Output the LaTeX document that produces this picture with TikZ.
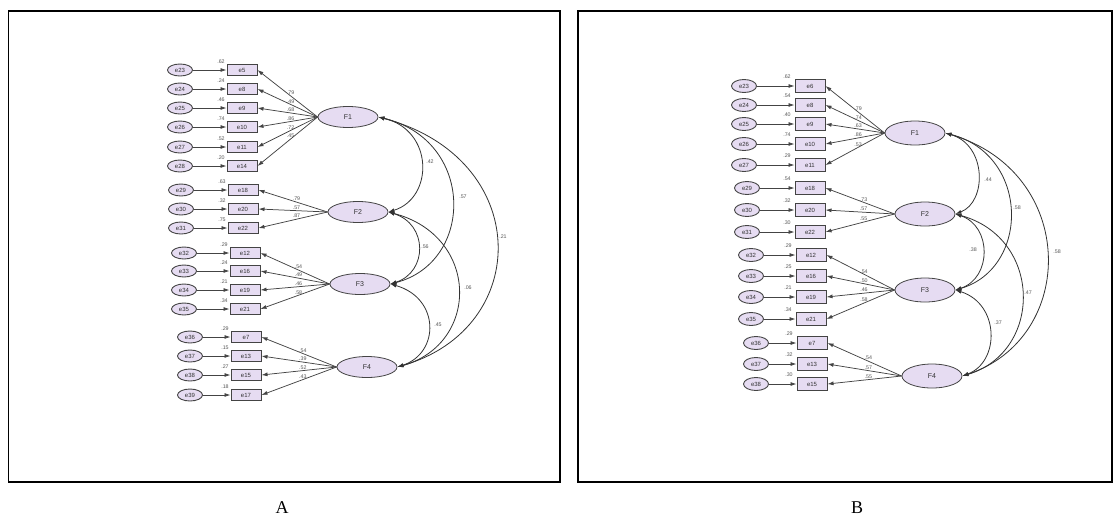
\documentclass[tikz,border=0pt]{standalone}
\usepackage{fontspec}
\setmainfont{Liberation Serif}
\newfontfamily\diagfont{Liberation Sans}
\usetikzlibrary{arrows.meta,shapes.geometric}
\definecolor{lav}{HTML}{E6DCF2}
\definecolor{edgegray}{HTML}{444444}
\definecolor{ink}{HTML}{333333}
\definecolor{numgray}{HTML}{555555}

\begin{document}
\begin{tikzpicture}[x=1pt,y=-1pt,
  frame/.style={draw=black,line width=1.6pt},
  errc/.style={ellipse,draw=edgegray,fill=lav,line width=0.9pt,minimum width=25pt,minimum height=12pt,inner sep=0pt,font=\diagfont\fontsize{6}{6}\selectfont,text=ink},
  obs/.style={rectangle,draw=edgegray,fill=lav,line width=1pt,minimum width=30pt,minimum height=11pt,inner sep=0pt,font=\diagfont\fontsize{6}{6}\selectfont,text=ink},
  obsb/.style={obs,minimum height=13pt},
  lat/.style={ellipse,draw=edgegray,fill=lav,line width=0.8pt,minimum width=60pt,minimum height=21pt,inner sep=0pt,font=\diagfont\fontsize{7}{7}\selectfont,text=ink},
  latb/.style={lat,minimum height=24pt},
  ind/.style={draw=edgegray,line width=0.75pt,-{Latex[length=6pt,width=4pt]}},
  cov/.style={draw=ink,line width=0.8pt,{Latex[length=6pt,width=4pt]}-{Latex[length=6pt,width=4pt]}},
  rsq/.style={inner sep=0pt,font=\diagfont\fontsize{5.3}{5.3}\selectfont,text=numgray},
  lbl/.style={inner sep=0.8pt,above,font=\diagfont\fontsize{5.3}{5.3}\selectfont,text=numgray},
  clbl/.style={inner sep=0pt,font=\diagfont\fontsize{5.3}{5.3}\selectfont,text=numgray},
  panel/.style={inner sep=0pt,font=\fontsize{18}{18}\selectfont}]

\useasboundingbox (0,0) rectangle (1115,517);

% frames and captions
\draw[frame] (8.5,11) rectangle (560,482);
\draw[frame] (578,11) rectangle (1112,482);
\node[panel] (capA) at (282,508) {A};
\node[panel] (capB) at (857,508) {B};

% ---------------- model A ----------------
\node[lat] (AF1) at (348,117) {F1};
\node[lat] (AF2) at (358,212) {F2};
\node[lat] (AF3) at (360,284) {F3};
\node[lat] (AF4) at (367,367) {F4};

\foreach \en/\bn/\y/\r/\l in {23/5/70/.62/.79,24/8/89/.24/.49,25/9/108/.46/.68,26/10/127/.74/.86,27/11/147/.52/.72,28/14/166/.20/.45}{
  \node[errc] (Ae\en) at (180,\y) {e\en};
  \node[obs] (Ab\bn) at (242,\y) {e\bn};
  \node[rsq] (Ar\bn) at (221,\y-8) {\r};
  \draw[ind] (Ae\en) -- (Ab\bn);
  \draw[ind] (AF1.west) -- (Ab\bn.east) node[lbl,pos=0.45] (Al\bn) {\l};
}
\foreach \en/\bn/\y/\r/\l in {29/18/190/.63/.79,30/20/209/.32/.57,31/22/228/.75/.87}{
  \node[errc] (Ae\en) at (181,\y) {e\en};
  \node[obs] (Ab\bn) at (243,\y) {e\bn};
  \node[rsq] (Ar\bn) at (222,\y-8) {\r};
  \draw[ind] (Ae\en) -- (Ab\bn);
  \draw[ind] (AF2.west) -- (Ab\bn.east) node[lbl,pos=0.45] (Al\bn) {\l};
}
\foreach \en/\bn/\y/\r/\l in {32/12/253/.29/.54,33/16/271/.24/.49,34/19/290/.21/.46,35/21/309/.34/.58}{
  \node[errc] (Ae\en) at (184,\y) {e\en};
  \node[obs] (Ab\bn) at (245,\y) {e\bn};
  \node[rsq] (Ar\bn) at (224,\y-8) {\r};
  \draw[ind] (Ae\en) -- (Ab\bn);
  \draw[ind] (AF3.west) -- (Ab\bn.east) node[lbl,pos=0.45] (Al\bn) {\l};
}
\foreach \en/\bn/\y/\r/\l in {36/7/337/.29/.54,37/13/356/.15/.39,38/15/375/.27/.52,39/17/395/.18/.43}{
  \node[errc] (Ae\en) at (190,\y) {e\en};
  \node[obs] (Ab\bn) at (246,\y) {e\bn};
  \node[rsq] (Ar\bn) at (225,\y-8) {\r};
  \draw[ind] (Ae\en) -- (Ab\bn);
  \draw[ind] (AF4.west) -- (Ab\bn.east) node[lbl,pos=0.45] (Al\bn) {\l};
}

% factor covariances, model A
\draw[cov] (AF1.east) .. controls (434,130) and (434,198) .. (AF2.east);
\draw[cov] (AF1.east) .. controls (475,140) and (475,262) .. (AF3.east);
\draw[cov] (AF1.east) .. controls (533,158) and (533,328) .. (AF4.east);
\draw[cov] (AF2.east) .. controls (428,224) and (428,272) .. (AF3.east);
\draw[cov] (AF2.east) .. controls (480,236) and (480,344) .. (AF4.east);
\draw[cov] (AF3.east) .. controls (440,298) and (440,353) .. (AF4.east);
\node[clbl] (Ac12) at (430,162) {.42};
\node[clbl] (Ac13) at (463,197) {.57};
\node[clbl] (Ac14) at (503,237) {.21};
\node[clbl] (Ac23) at (425,247) {.56};
\node[clbl] (Ac24) at (468,288) {.06};
\node[clbl] (Ac34) at (438,325) {.45};

% ---------------- model B ----------------
\node[latb] (BF1) at (915,133) {F1};
\node[latb] (BF2) at (925,214) {F2};
\node[latb] (BF3) at (925,290) {F3};
\node[latb] (BF4) at (932,376) {F4};

\foreach \en/\bn/\y/\r/\l in {23/6/86/.62/.79,24/8/105/.54/.74,25/9/124/.40/.63,26/10/144/.74/.86,27/11/165/.29/.53}{
  \node[errc,minimum height=13pt] (Be\en) at (744,\y) {e\en};
  \node[obsb] (Bb\bn) at (810,\y) {e\bn};
  \node[rsq] (Br\bn) at (787,\y-9) {\r};
  \draw[ind] (Be\en) -- (Bb\bn);
  \draw[ind] (BF1.west) -- (Bb\bn.east) node[lbl,pos=0.45] (Bl\bn) {\l};
}
\foreach \en/\bn/\y/\r/\l in {29/18/188/.54/.73,30/20/210/.32/.57,31/22/232/.30/.55}{
  \node[errc,minimum height=13pt] (Be\en) at (747,\y) {e\en};
  \node[obsb] (Bb\bn) at (810,\y) {e\bn};
  \node[rsq] (Br\bn) at (787,\y-9) {\r};
  \draw[ind] (Be\en) -- (Bb\bn);
  \draw[ind] (BF2.west) -- (Bb\bn.east) node[lbl,pos=0.45] (Bl\bn) {\l};
}
\foreach \en/\bn/\y/\r/\l in {32/12/255/.29/.54,33/16/276/.25/.50,34/19/297/.21/.46,35/21/319/.34/.58}{
  \node[errc,minimum height=13pt] (Be\en) at (751,\y) {e\en};
  \node[obsb] (Bb\bn) at (811,\y) {e\bn};
  \node[rsq] (Br\bn) at (788,\y-9) {\r};
  \draw[ind] (Be\en) -- (Bb\bn);
  \draw[ind] (BF3.west) -- (Bb\bn.east) node[lbl,pos=0.45] (Bl\bn) {\l};
}
\foreach \en/\bn/\y/\r/\l in {36/7/343/.29/.54,37/13/364/.32/.57,38/15/384/.30/.55}{
  \node[errc,minimum height=13pt] (Be\en) at (756,\y) {e\en};
  \node[obsb] (Bb\bn) at (812,\y) {e\bn};
  \node[rsq] (Br\bn) at (789,\y-9) {\r};
  \draw[ind] (Be\en) -- (Bb\bn);
  \draw[ind] (BF4.west) -- (Bb\bn.east) node[lbl,pos=0.45] (Bl\bn) {\l};
}

% factor covariances, model B
\draw[cov] (BF1.east) .. controls (987,145) and (987,202) .. (BF2.east);
\draw[cov] (BF1.east) .. controls (1030,155) and (1030,268) .. (BF3.east);
\draw[cov] (BF1.east) .. controls (1078,172) and (1078,338) .. (BF4.east);
\draw[cov] (BF2.east) .. controls (992,226) and (992,278) .. (BF3.east);
\draw[cov] (BF2.east) .. controls (1043,238) and (1043,352) .. (BF4.east);
\draw[cov] (BF3.east) .. controls (1000,304) and (1000,362) .. (BF4.east);
\node[clbl] (Bc12) at (988,180) {.44};
\node[clbl] (Bc13) at (1017,208) {.58};
\node[clbl] (Bc14) at (1057,252) {.58};
\node[clbl] (Bc23) at (973,250) {.38};
\node[clbl] (Bc24) at (1028,293) {.47};
\node[clbl] (Bc34) at (998,323) {.37};
\end{tikzpicture}
\end{document}
